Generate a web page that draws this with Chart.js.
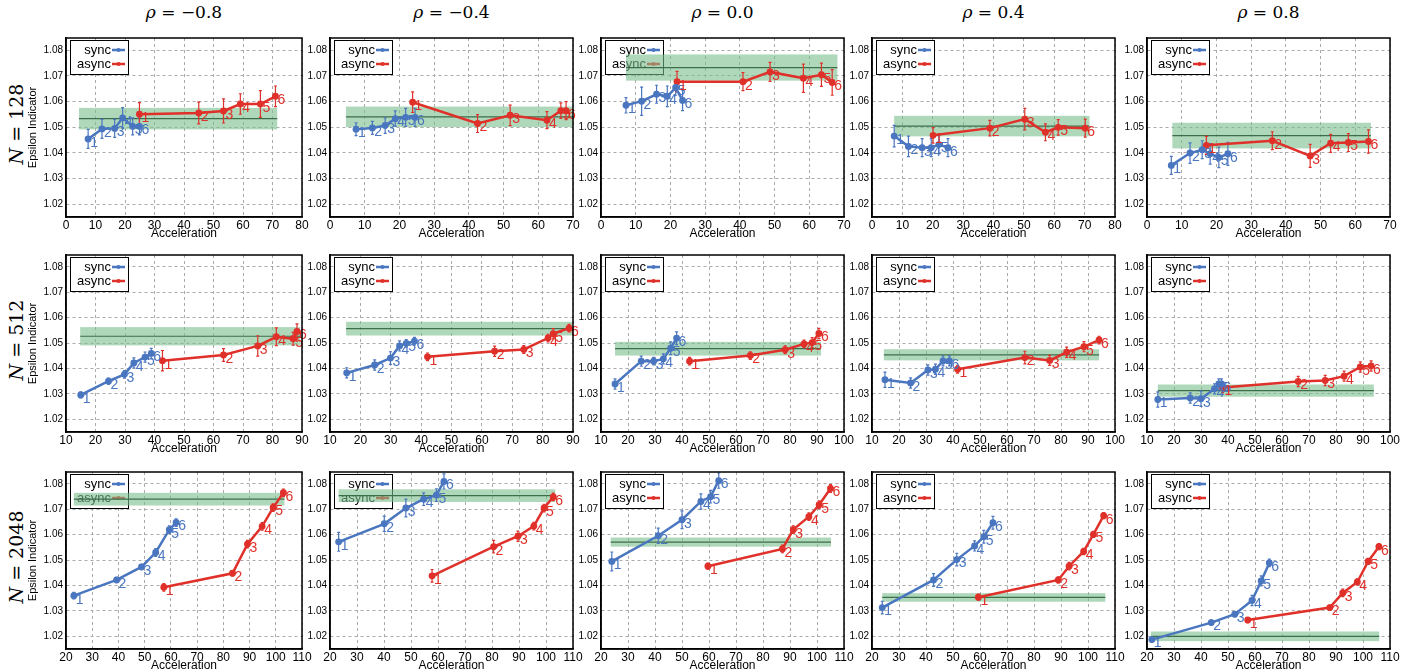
<!DOCTYPE html>
<html lang="en">
<head>
<meta charset="UTF-8">
<title>Epsilon indicator vs acceleration</title>
<script src="https://cdn.jsdelivr.net/npm/chart.js"></script>
<style>
    body { margin: 0; background: #fff; width: 1418px; height: 672px; position: relative; overflow: hidden; }
    .coltitle { position: absolute; top: 2px; font-family: "DejaVu Serif", serif; font-size: 17px; text-align: center; width: 200px; }
    .rowtitle { position: absolute; width: 180px; text-align: center; white-space: nowrap; font-family: "DejaVu Serif", serif; font-size: 19px; transform: rotate(-90deg); }
</style>
</head>
<body>
<script>
    const rhos = ["\u22120.8", "\u22120.4", "0.0", "0.4", "0.8"];
    const sizes = ["128", "512", "2048"];

    const xMin = [[0, 0, 0, 0, 0], [10, 10, 10, 10, 10], [20, 20, 20, 20, 20]];
    const xMax = [[80, 70, 70, 80, 70], [90, 90, 100, 100, 100], [110, 110, 110, 110, 110]];
    const yTicks = [1.02, 1.03, 1.04, 1.05, 1.06, 1.07, 1.08];

    // N = 128
    const syncX128 = [[7.5, 12.2, 16.5, 19.2, 22.6, 24.9], [7.5, 12.2, 15.9, 18.8, 21.8, 24.5], [7.2, 11.7, 16, 19.1, 21.5, 23.5], [7.3, 12, 16.5, 19.5, 22, 25], [7, 12.4, 15.9, 18.2, 20.7, 23.3]];
    const syncY128 = [[1.0454, 1.0493, 1.0495, 1.0536, 1.0503, 1.0503], [1.0492, 1.0497, 1.0506, 1.0533, 1.0538, 1.0538], [1.0585, 1.0601, 1.0628, 1.062, 1.0654, 1.0604], [1.0465, 1.0425, 1.042, 1.042, 1.0432, 1.042], [1.0351, 1.0399, 1.0412, 1.0396, 1.0382, 1.0396]];
    const syncE128 = [[0.0037, 0.0037, 0.0035, 0.004, 0.0033, 0.0033], [0.0025, 0.0025, 0.003, 0.003, 0.0035, 0.0035], [0.003, 0.0055, 0.0035, 0.004, 0.003, 0.004], [0.0042, 0.004, 0.0035, 0.0035, 0.0035, 0.0035], [0.0035, 0.004, 0.0035, 0.004, 0.004, 0.0045]];
    const asyncX128 = [[24.9, 45, 53.4, 59.1, 65.9, 71], [23.8, 42.5, 51.9, 62.5, 66.5, 68], [21.9, 40.9, 48.7, 58.3, 63.5, 66.6], [20.1, 38.8, 50.3, 57.1, 61.3, 70.2], [17.1, 36.1, 47, 52.9, 58, 63.8]];
    const asyncY128 = [[1.055, 1.0555, 1.0563, 1.059, 1.059, 1.062], [1.0597, 1.0514, 1.0546, 1.0527, 1.0564, 1.0564], [1.0677, 1.0677, 1.0715, 1.069, 1.0704, 1.0674], [1.0468, 1.0496, 1.0531, 1.048, 1.0499, 1.0496], [1.0429, 1.0447, 1.0388, 1.0437, 1.044, 1.0444]];
    const asyncE128 = [[0.0045, 0.0042, 0.0047, 0.004, 0.0052, 0.004], [0.004, 0.0035, 0.004, 0.0033, 0.003, 0.0035], [0.004, 0.0035, 0.0037, 0.0055, 0.0045, 0.005], [0.003, 0.003, 0.0042, 0.0033, 0.003, 0.0035], [0.0035, 0.0035, 0.0045, 0.0035, 0.0035, 0.0045]];
    const bandFrom128 = [4.4, 4.6, 7.2, 7.3, 7.3];
    const bandTo128 = [71.6, 70, 68.1, 71.6, 64.5];
    const bandMid128 = [1.0533, 1.054, 1.0732, 1.0504, 1.0467];
    const bandHalf128 = [0.0042, 0.004, 0.0051, 0.004, 0.005];

    // N = 512
    const syncX512 = [[15, 24.4, 29.8, 33, 36.8, 38.9], [15.5, 24.7, 29.9, 32.9, 35.1, 37.8], [15.2, 24.9, 29.5, 33.1, 35.8, 38], [14.8, 24.3, 30.7, 33.5, 36.3, 38.7], [14, 26, 30, 35, 36.6, 37.6]];
    const syncY512 = [[1.0296, 1.035, 1.0377, 1.0422, 1.0445, 1.0459], [1.0383, 1.0414, 1.0441, 1.0489, 1.0499, 1.0508], [1.0339, 1.0429, 1.0429, 1.0438, 1.048, 1.0519], [1.0356, 1.0343, 1.0394, 1.0397, 1.043, 1.043], [1.0278, 1.0284, 1.0281, 1.032, 1.0339, 1.0339]];
    const syncE512 = [[0.0012, 0.0012, 0.0015, 0.002, 0.002, 0.002], [0.002, 0.002, 0.0025, 0.002, 0.0015, 0.0015], [0.002, 0.002, 0.0015, 0.002, 0.0025, 0.0025], [0.003, 0.002, 0.002, 0.002, 0.002, 0.002], [0.003, 0.002, 0.003, 0.002, 0.002, 0.002]];
    const asyncX512 = [[42.7, 63.4, 75, 81.3, 87, 88.3], [42.1, 64.2, 73.8, 81.8, 83.5, 88.7], [42.8, 65.3, 78.2, 85.2, 88.2, 90.7], [41.7, 66.6, 75.8, 82.1, 88.5, 94.1], [38, 66, 76, 83, 89, 93]];
    const asyncY512 = [[1.0431, 1.0453, 1.0489, 1.0525, 1.0517, 1.0546], [1.0446, 1.0468, 1.0475, 1.052, 1.0537, 1.0559], [1.0429, 1.0451, 1.0474, 1.0497, 1.0502, 1.0538], [1.0397, 1.0443, 1.0432, 1.0464, 1.0486, 1.0512], [1.0325, 1.0349, 1.0353, 1.037, 1.0406, 1.041]];
    const asyncE512 = [[0.004, 0.0025, 0.004, 0.0035, 0.0025, 0.003], [0.0015, 0.002, 0.0015, 0.0015, 0.002, 0.0015], [0.0015, 0.0015, 0.0015, 0.0015, 0.002, 0.002], [0.0015, 0.0025, 0.002, 0.002, 0.002, 0.0015], [0.002, 0.002, 0.002, 0.002, 0.002, 0.002]];
    const bandFrom512 = [14.8, 15.3, 15.2, 14.4, 14];
    const bandTo512 = [89.4, 90, 91.5, 94.1, 94];
    const bandMid512 = [1.0527, 1.0557, 1.0478, 1.0454, 1.0313];
    const bandHalf512 = [0.0036, 0.0027, 0.0027, 0.0022, 0.0024];

    // N = 2048
    const syncX2048 = [[23, 39.3, 48.8, 54.2, 59.4, 62], [23.2, 40.1, 48.1, 54.7, 59.4, 62.2], [24, 41.2, 50, 57, 60.6, 63.6], [23.8, 42.8, 51.4, 58, 61.4, 64.8], [21.8, 43.8, 52.5, 58.9, 62.3, 65.3]];
    const syncY2048 = [[1.036, 1.0422, 1.0473, 1.053, 1.062, 1.0648], [1.0572, 1.0643, 1.0705, 1.074, 1.0756, 1.081], [1.0495, 1.0596, 1.0659, 1.0731, 1.075, 1.0813], [1.0313, 1.0422, 1.0502, 1.0556, 1.0592, 1.0647], [1.0187, 1.0254, 1.0287, 1.0341, 1.0418, 1.0489]];
    const syncE2048 = [[0.0013, 0.001, 0.001, 0.0015, 0.0015, 0.0015], [0.0037, 0.003, 0.0035, 0.0025, 0.0025, 0.003], [0.0037, 0.003, 0.0035, 0.003, 0.0025, 0.003], [0.0025, 0.0025, 0.0025, 0.002, 0.0025, 0.0025], [0.001, 0.001, 0.001, 0.002, 0.002, 0.0015]];
    const asyncX2048 = [[57.3, 83.5, 89.2, 94.8, 99, 102.9], [57.8, 80.6, 89.6, 95.5, 99.3, 102.7], [59.6, 87.2, 91.2, 97, 100.8, 105], [59.4, 89, 93, 98.4, 102, 105.8], [57.3, 87.7, 92.5, 97.9, 101.9, 105.9]];
    const asyncY2048 = [[1.0393, 1.0448, 1.0563, 1.0633, 1.0707, 1.0765], [1.0438, 1.0553, 1.0594, 1.0634, 1.0705, 1.0749], [1.0476, 1.0544, 1.062, 1.0671, 1.0718, 1.0782], [1.0354, 1.0422, 1.0476, 1.0534, 1.0601, 1.0675], [1.0264, 1.0313, 1.0371, 1.0414, 1.0495, 1.0553]];
    const asyncE2048 = [[0.0015, 0.001, 0.0015, 0.0015, 0.0015, 0.0015], [0.0025, 0.0025, 0.002, 0.0015, 0.0015, 0.0015], [0.0012, 0.0015, 0.0015, 0.0015, 0.0015, 0.0015], [0.0012, 0.0012, 0.0015, 0.0012, 0.0012, 0.0012], [0.001, 0.001, 0.0015, 0.0012, 0.0012, 0.0012]];
    const bandFrom2048 = [23, 23.2, 23.6, 23.8, 21.4];
    const bandTo2048 = [103.3, 103.4, 105.2, 106.4, 106];
    const bandMid2048 = [1.074, 1.0754, 1.0571, 1.0353, 1.02];
    const bandHalf2048 = [0.0025, 0.0025, 0.0018, 0.0017, 0.0019];

    const rows = [
        { sx: syncX128, sy: syncY128, se: syncE128, ax: asyncX128, ay: asyncY128, ae: asyncE128, bf: bandFrom128, bt: bandTo128, bm: bandMid128, bh: bandHalf128 },
        { sx: syncX512, sy: syncY512, se: syncE512, ax: asyncX512, ay: asyncY512, ae: asyncE512, bf: bandFrom512, bt: bandTo512, bm: bandMid512, bh: bandHalf512 },
        { sx: syncX2048, sy: syncY2048, se: syncE2048, ax: asyncX2048, ay: asyncY2048, ae: asyncE2048, bf: bandFrom2048, bt: bandTo2048, bm: bandMid2048, bh: bandHalf2048 }
    ];

    const plotLeft = [66, 330, 601, 872, 1147];
    const plotRight = [302, 573, 844, 1115, 1390];
    const plotTop = [35, 252, 469];
    const plotBottom = [217, 432, 649];

    const BLUE = "#4a76c0";
    const RED = "#e0302a";
    const FONT = "Liberation Sans, Arial, sans-serif";

    const panelPlugin = {
        id: "panel",
        beforeDatasetsDraw(chart) {
            const { ctx, chartArea: a, scales: { x, y } } = chart;
            const p = chart.options.plugins.panel;
            // legend box
            ctx.save();
            ctx.fillStyle = "#fff";
            ctx.strokeStyle = "#000";
            ctx.lineWidth = 1;
            ctx.fillRect(a.left + 4, a.top + 2, 58, 34);
            ctx.strokeRect(a.left + 4.5, a.top + 2.5, 58, 34);
            ctx.font = "13px " + FONT;
            ctx.textAlign = "right";
            ctx.textBaseline = "middle";
            [["sync", BLUE, 12], ["async", RED, 26]].forEach(([t, c, dy]) => {
                ctx.fillStyle = "#000";
                ctx.fillText(t, a.left + 45, a.top + dy);
                ctx.strokeStyle = c;
                ctx.lineWidth = 2.5;
                ctx.beginPath();
                ctx.moveTo(a.left + 46, a.top + dy);
                ctx.lineTo(a.left + 59, a.top + dy);
                ctx.stroke();
                ctx.fillStyle = c;
                ctx.beginPath();
                ctx.arc(a.left + 52.5, a.top + dy, 2, 0, Math.PI * 2);
                ctx.fill();
            });
            // reference band
            ctx.beginPath();
            ctx.rect(a.left, a.top, a.width, a.height);
            ctx.clip();
            const x0 = x.getPixelForValue(p.bandFrom), x1 = x.getPixelForValue(p.bandTo);
            const yt = y.getPixelForValue(p.bandMid + p.bandHalf), yb = y.getPixelForValue(p.bandMid - p.bandHalf);
            ctx.fillStyle = "rgba(122, 190, 140, 0.6)";
            ctx.fillRect(x0, yt, x1 - x0, yb - yt);
            ctx.strokeStyle = "#3d6e4a";
            ctx.lineWidth = 1.2;
            ctx.beginPath();
            const ym = y.getPixelForValue(p.bandMid);
            ctx.moveTo(x0, ym);
            ctx.lineTo(x1, ym);
            ctx.stroke();
            // error bars
            chart.data.datasets.forEach(ds => {
                ctx.strokeStyle = ds.borderColor;
                ctx.lineWidth = 1.2;
                ds.data.forEach((pt, i) => {
                    const px = x.getPixelForValue(pt.x);
                    const ya = y.getPixelForValue(pt.y + ds.err[i]), yz = y.getPixelForValue(pt.y - ds.err[i]);
                    ctx.beginPath();
                    ctx.moveTo(px, ya); ctx.lineTo(px, yz);
                    ctx.moveTo(px - 1.5, ya); ctx.lineTo(px + 1.5, ya);
                    ctx.moveTo(px - 1.5, yz); ctx.lineTo(px + 1.5, yz);
                    ctx.stroke();
                });
            });
            ctx.restore();
        },
        afterDatasetsDraw(chart) {
            const { ctx, chartArea: a, scales: { x, y } } = chart;
            ctx.save();
            ctx.beginPath();
            ctx.rect(a.left, a.top, a.width + 12, a.height);
            ctx.clip();
            ctx.font = "14px " + FONT;
            ctx.textAlign = "left";
            ctx.textBaseline = "middle";
            chart.data.datasets.forEach(ds => {
                ctx.fillStyle = ds.borderColor;
                ds.data.forEach((pt, i) => {
                    ctx.fillText(String(i + 1), x.getPixelForValue(pt.x) + 2, y.getPixelForValue(pt.y) + 4);
                });
            });
            ctx.restore();
            ctx.save();
            ctx.strokeStyle = "#000";
            ctx.lineWidth = 1.5;
            ctx.strokeRect(a.left, a.top, a.width, a.height);
            ctx.restore();
        }
    };

    function addText(cls, text, left, top) {
        const d = document.createElement("div");
        d.className = cls;
        d.innerHTML = text;
        d.style.left = left + "px";
        d.style.top = top + "px";
        document.body.appendChild(d);
    }

    rhos.forEach((r, c) => {
        addText("coltitle", "<i>\u03c1</i> = " + r, (plotLeft[c] + plotRight[c]) / 2 - 100, 2);
    });
    sizes.forEach((n, r) => {
        addText("rowtitle", "<i>N</i> = " + n, 16 - 90, (plotTop[r] + plotBottom[r]) / 2 - 13);
    });

    for (let r = 0; r < 3; r++) {
        for (let c = 0; c < 5; c++) {
            const d = rows[r];
            const yW = c === 0 ? 40 : 36;
            const padTop = 6, padRight = 14, xH = 23;
            const w = plotRight[c] - plotLeft[c];
            const h = plotBottom[r] - plotTop[r];
            const wrap = document.createElement("div");
            wrap.style.position = "absolute";
            wrap.style.left = (plotLeft[c] - yW) + "px";
            wrap.style.top = (plotTop[r] - padTop) + "px";
            wrap.style.width = (w + yW + padRight) + "px";
            wrap.style.height = (h + padTop + xH) + "px";
            const cv = document.createElement("canvas");
            wrap.appendChild(cv);
            document.body.appendChild(wrap);

            const toPts = (xs, ys) => xs.map((v, i) => ({ x: v, y: ys[i] }));
            new Chart(cv, {
                type: "line",
                data: {
                    datasets: [
                        { label: "sync", data: toPts(d.sx[c], d.sy[c]), err: d.se[c], borderColor: BLUE, backgroundColor: BLUE, borderWidth: 2.5, pointRadius: 2.2, pointHoverRadius: 0, tension: 0 },
                        { label: "async", data: toPts(d.ax[c], d.ay[c]), err: d.ae[c], borderColor: RED, backgroundColor: RED, borderWidth: 2.5, pointRadius: 2.2, pointHoverRadius: 0, tension: 0 }
                    ]
                },
                plugins: [panelPlugin],
                options: {
                    responsive: true,
                    maintainAspectRatio: false,
                    animation: false,
                    layout: { padding: { top: padTop, right: padRight, left: 0, bottom: 0 } },
                    plugins: {
                        legend: { display: false },
                        tooltip: { enabled: false },
                        panel: { bandFrom: d.bf[c], bandTo: d.bt[c], bandMid: d.bm[c], bandHalf: d.bh[c] }
                    },
                    scales: {
                        x: {
                            type: "linear",
                            min: xMin[r][c], max: xMax[r][c],
                            afterFit: s => { s.height = xH; },
                            ticks: { stepSize: 10, color: "#000", font: { size: 12, family: FONT }, padding: 1, maxRotation: 0 },
                            grid: { color: "#aaa", lineWidth: 1, drawTicks: false },
                            border: { display: true, color: "#000", width: 1.5, dash: [3, 3] },
                            title: { display: true, text: "Acceleration", color: "#000", font: { size: 12, family: FONT, lineHeight: 1 }, padding: { top: -2, bottom: 0 } }
                        },
                        y: {
                            min: 1.015, max: 1.0847,
                            afterFit: s => { s.width = yW; },
                            afterBuildTicks: s => { s.ticks = yTicks.map(v => ({ value: v })); },
                            ticks: { color: "#000", font: { size: 10, family: FONT }, padding: 3, callback: v => v.toFixed(2) },
                            grid: { color: "#aaa", lineWidth: 1, drawTicks: false },
                            border: { display: true, color: "#000", width: 1.5, dash: [3, 3] },
                            title: { display: c === 0, text: "Epsilon Indicator", color: "#000", font: { size: 11, family: FONT }, padding: 0 }
                        }
                    }
                }
            });
        }
    }
</script>
</body>
</html>
